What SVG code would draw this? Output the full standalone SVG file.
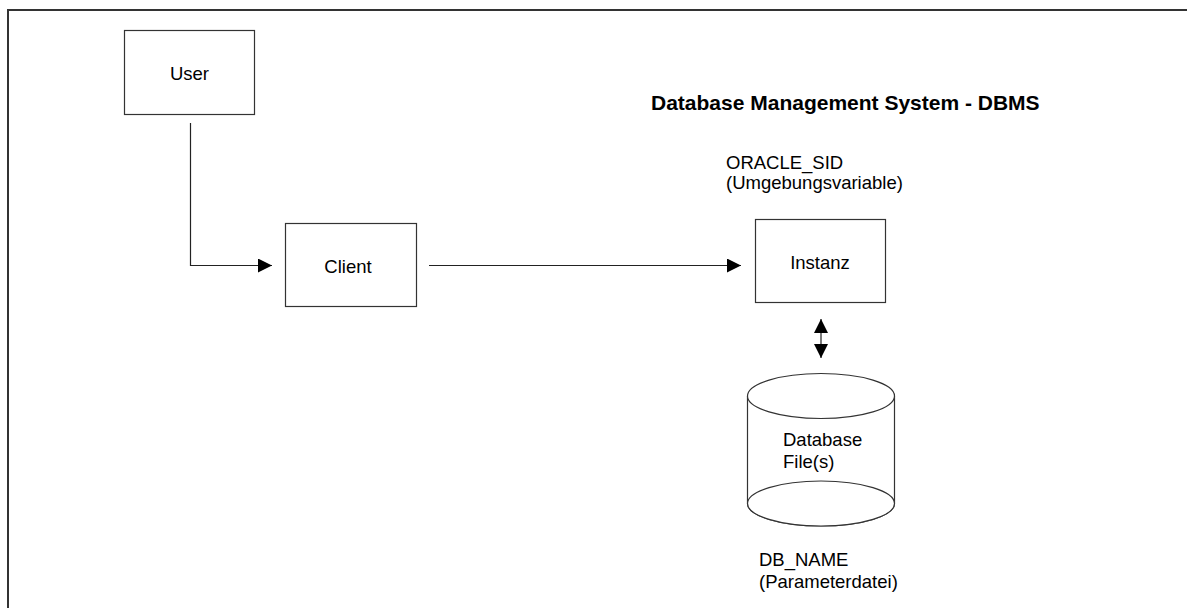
<svg xmlns="http://www.w3.org/2000/svg" width="1187" height="609" viewBox="0 0 1187 609">
<defs>
<style>
.box{fill:#fff;stroke:#333;stroke-width:1.2}
.ln{fill:none;stroke:#222;stroke-width:1.2}
.t{font-family:"Liberation Sans",Arial,sans-serif;font-size:18.5px;fill:#000}
.title{font-family:"Liberation Sans",Arial,sans-serif;font-size:21px;font-weight:bold;fill:#000}
</style>
<marker id="ah" viewBox="0 0 14 14" refX="14" refY="7" markerWidth="14" markerHeight="14" markerUnits="userSpaceOnUse" orient="auto-start-reverse">
<path d="M0,0 L14,7 L0,14 Z" fill="#000"/>
</marker>
</defs>
<rect width="1187" height="609" fill="#fff"/>
<path d="M8,608 V10 H1187" fill="none" stroke="#333" stroke-width="2"/>
<text class="title" x="651" y="110">Database Management System - DBMS</text>
<g id="user">
<rect class="box" x="124.5" y="30.5" width="130" height="84"/>
<text class="t" x="189.5" y="80" text-anchor="middle">User</text>
</g>
<g id="client">
<rect class="box" x="285.5" y="223.5" width="131" height="83"/>
<text class="t" x="348" y="273" text-anchor="middle">Client</text>
</g>
<g id="instanz">
<rect class="box" x="755.5" y="219.5" width="130" height="83"/>
<text class="t" x="820" y="269" text-anchor="middle">Instanz</text>
<text class="t" x="726" y="169">ORACLE_SID</text>
<text class="t" x="726" y="189">(Umgebungsvariable)</text>
</g>
<g id="database">
<path class="box" d="M747.5,396 V503.5 A73.5,22.5 0 0 0 894.5,503.5 V396"/>
<ellipse class="box" cx="821" cy="503.5" rx="73.5" ry="22.5" fill="none"/>
<ellipse class="box" cx="821" cy="396" rx="73.5" ry="22.5"/>
<text class="t" x="783" y="446">Database</text>
<text class="t" x="783" y="468">File(s)</text>
<text class="t" x="759" y="566">DB_NAME</text>
<text class="t" x="759" y="588">(Parameterdatei)</text>
</g>
<g id="connectors">
<path class="ln" d="M190.5,123 V265.5 H272" marker-end="url(#ah)"/>
<path class="ln" d="M429,265.5 H741" marker-end="url(#ah)"/>
<path class="ln" d="M821,319 V358" marker-start="url(#ah)" marker-end="url(#ah)"/>
</g>
</svg>
